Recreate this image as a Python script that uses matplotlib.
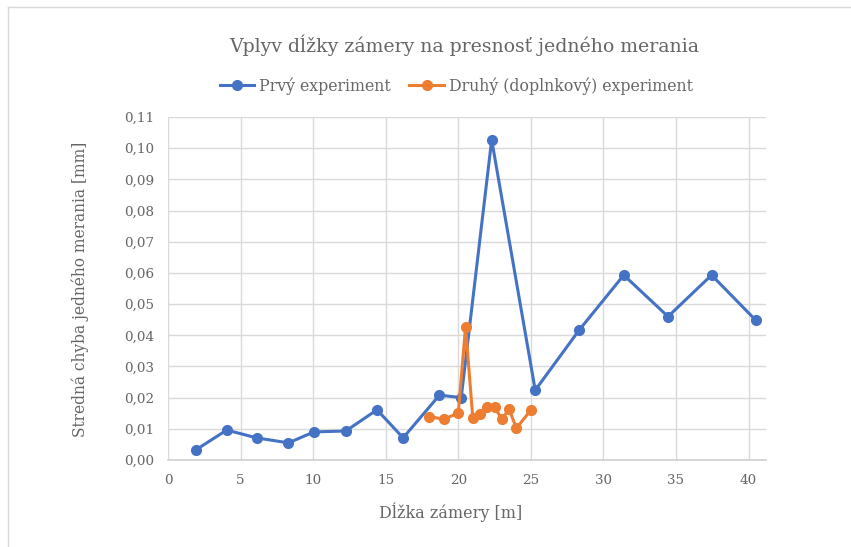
import matplotlib.pyplot as plt
from matplotlib.lines import Line2D
from matplotlib.ticker import FuncFormatter, MultipleLocator

# data
x_prvy = [1.9, 4.05, 6.1, 8.3, 10.05, 12.25, 14.4, 16.2, 18.7, 20.2, 22.3, 25.3,
          28.35, 31.4, 34.45, 37.45, 40.5]
y_prvy = [0.0032, 0.0096, 0.0071, 0.0055, 0.0090, 0.0093, 0.0161, 0.0071, 0.0208,
          0.0200, 0.1027, 0.0224, 0.0418, 0.0593, 0.0460, 0.0593, 0.0448]

x_druhy = [18, 19, 20, 20.5, 21, 21.5, 22, 22.5, 23, 23.5, 24, 25]
y_druhy = [0.0139, 0.0131, 0.0150, 0.0427, 0.0135, 0.0148, 0.0169, 0.0169, 0.0131,
           0.0163, 0.0102, 0.0160]

x_ticks = [0, 5, 10, 15, 20, 25, 30, 35, 40]

plt.rcParams['font.family'] = ['DejaVu Serif']
text_col = '#666666'

fig = plt.figure(figsize=(8.51, 5.47), dpi=100)
ax = fig.add_axes([168 / 851, 1 - 460 / 547, (766 - 168) / 851, (460 - 117) / 547])

ax.plot(x_prvy, y_prvy, '-o', color='#4472C4', lw=2.2, ms=7, label='Prvý experiment', zorder=3)
ax.plot(x_druhy, y_druhy, '-o', color='#ED7D31', lw=2.2, ms=7,
        label='Druhý (doplnkový) experiment', zorder=4)

ax.set_xlim(0, 41.2)
ax.set_ylim(0, 0.11)
ax.set_xticks(x_ticks)
ax.yaxis.set_major_locator(MultipleLocator(0.01))
ax.yaxis.set_major_formatter(FuncFormatter(lambda v, p: f'{v:.2f}'.replace('.', ',')))

ax.grid(True, color='#d9d9d9', lw=1)
ax.set_axisbelow(True)
for s in ['top', 'right', 'left']:
    ax.spines[s].set_visible(False)
ax.spines['bottom'].set_color('#d0d0d0')
ax.spines['bottom'].set_linewidth(1.2)
ax.tick_params(length=0, colors=text_col, labelsize=9.7, pad=10)

ax.set_xlabel('Dĺžka zámery [m]', color=text_col, fontsize=11.5)
ax.set_ylabel('Stredná chyba jedného merania [mm]', color=text_col, fontsize=11.2)
ax.xaxis.set_label_coords((451 - 168) / 598, -(512 - 460) / 343)
ax.yaxis.set_label_coords((80 - 168) / 598, (460 - 289) / 343)
ax.xaxis.label.set_va('center')
ax.yaxis.label.set_va('center')

fig.text(0.546, 0.917, 'Vplyv dĺžky zámery na presnosť jedného merania', ha='center',
         va='center', color=text_col, fontsize=13.6)
fig.legend(loc='center', bbox_to_anchor=(0.536, 0.843), ncol=2, frameon=False,
           fontsize=11.3, labelcolor=text_col, handlelength=2.2, columnspacing=1.2,
           handletextpad=0.3)

# chart frame
fig.add_artist(Line2D([8 / 851, 8 / 851], [0, 1 - 7 / 547], color='#d9d9d9', lw=1))
fig.add_artist(Line2D([8 / 851, 1], [1 - 7 / 547, 1 - 7 / 547], color='#d9d9d9', lw=1))

fig.savefig('out.png', dpi=100)
